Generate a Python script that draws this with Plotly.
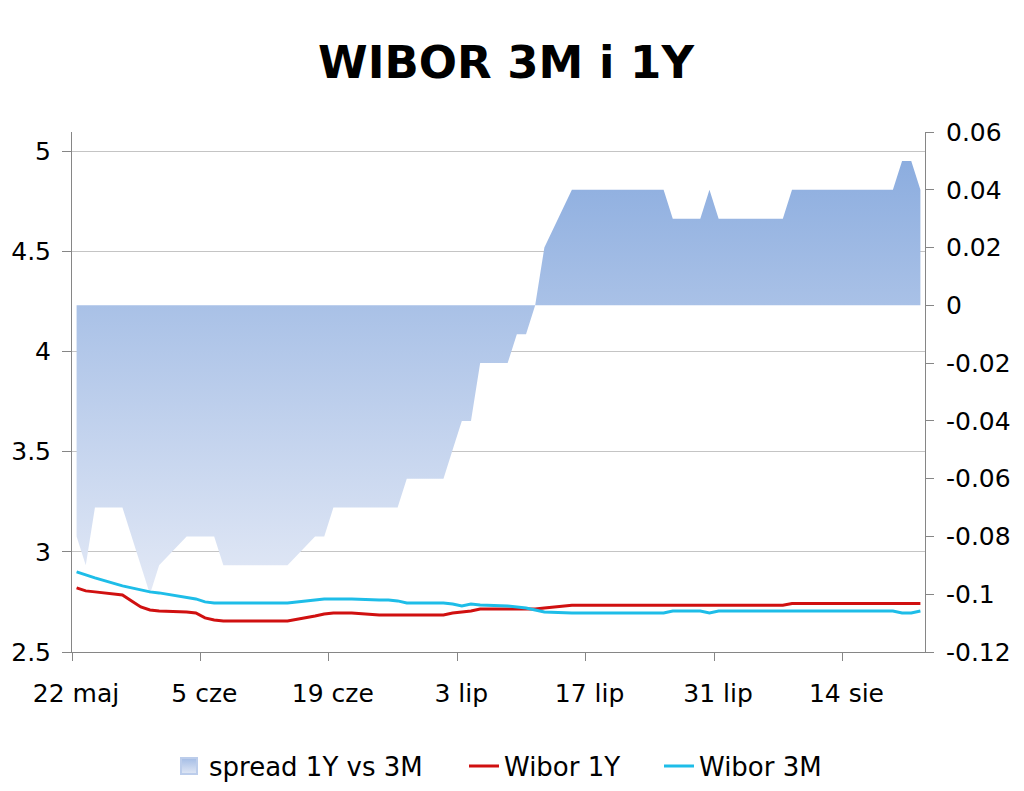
import plotly.graph_objects as go

# business days 22 May - 22 Aug 2013
dates = [
    "2013-05-22", "2013-05-23", "2013-05-24", "2013-05-27", "2013-05-28", "2013-05-29", "2013-05-30", "2013-05-31",
    "2013-06-03", "2013-06-04", "2013-06-05", "2013-06-06", "2013-06-07",
    "2013-06-10", "2013-06-11", "2013-06-12", "2013-06-13", "2013-06-14",
    "2013-06-17", "2013-06-18", "2013-06-19", "2013-06-20", "2013-06-21",
    "2013-06-24", "2013-06-25", "2013-06-26", "2013-06-27", "2013-06-28",
    "2013-07-01", "2013-07-02", "2013-07-03", "2013-07-04", "2013-07-05",
    "2013-07-08", "2013-07-09", "2013-07-10", "2013-07-11", "2013-07-12",
    "2013-07-15", "2013-07-16", "2013-07-17", "2013-07-18", "2013-07-19",
    "2013-07-22", "2013-07-23", "2013-07-24", "2013-07-25", "2013-07-26",
    "2013-07-29", "2013-07-30", "2013-07-31", "2013-08-01", "2013-08-02",
    "2013-08-05", "2013-08-06", "2013-08-07", "2013-08-08", "2013-08-09",
    "2013-08-12", "2013-08-13", "2013-08-14", "2013-08-15", "2013-08-16",
    "2013-08-19", "2013-08-20", "2013-08-21", "2013-08-22",
]

wibor_3m = [
    2.90, 2.885, 2.87, 2.83, 2.82, 2.81, 2.80, 2.795,
    2.775, 2.765, 2.75, 2.745, 2.745,
    2.745, 2.745, 2.745, 2.745, 2.745,
    2.76, 2.765, 2.765, 2.765, 2.765,
    2.76, 2.76, 2.755, 2.745, 2.745,
    2.745, 2.74, 2.73, 2.74, 2.735,
    2.73, 2.725, 2.72, 2.71, 2.70,
    2.695, 2.695, 2.695, 2.695, 2.695,
    2.695, 2.695, 2.695, 2.695, 2.705,
    2.705, 2.695, 2.705, 2.705, 2.705,
    2.705, 2.705, 2.705, 2.705, 2.705,
    2.705, 2.705, 2.705, 2.705, 2.705,
    2.705, 2.695, 2.695, 2.705,
]

wibor_1y = [
    2.82, 2.805, 2.80, 2.785, 2.755, 2.725, 2.71, 2.705,
    2.70, 2.695, 2.67, 2.66, 2.655,
    2.655, 2.655, 2.655, 2.655, 2.655,
    2.68, 2.69, 2.695, 2.695, 2.695,
    2.685, 2.685, 2.685, 2.685, 2.685,
    2.685, 2.695, 2.70, 2.705, 2.715,
    2.715, 2.715, 2.715, 2.715, 2.72,
    2.733, 2.733, 2.733, 2.733, 2.733,
    2.733, 2.733, 2.733, 2.733, 2.733,
    2.733, 2.733, 2.733, 2.733, 2.733,
    2.733, 2.733, 2.733, 2.742, 2.742,
    2.742, 2.742, 2.742, 2.742, 2.742,
    2.742, 2.742, 2.742, 2.742,
]

spread = [
    -0.08, -0.09, -0.07, -0.07, -0.08, -0.09, -0.10, -0.09,
    -0.08, -0.08, -0.08, -0.08, -0.09,
    -0.09, -0.09, -0.09, -0.09, -0.09,
    -0.08, -0.08, -0.07, -0.07, -0.07,
    -0.07, -0.07, -0.07, -0.06, -0.06,
    -0.06, -0.05, -0.04, -0.04, -0.02,
    -0.02, -0.01, -0.01, 0.00, 0.02,
    0.04, 0.04, 0.04, 0.04, 0.04,
    0.04, 0.04, 0.04, 0.04, 0.03,
    0.03, 0.04, 0.03, 0.03, 0.03,
    0.03, 0.03, 0.03, 0.04, 0.04,
    0.04, 0.04, 0.04, 0.04, 0.04,
    0.04, 0.05, 0.05, 0.04,
]

tick_dates = ["2013-05-22", "2013-06-05", "2013-06-19", "2013-07-03", "2013-07-17", "2013-07-31", "2013-08-14"]
tick_labels = ["22 maj", "5 cze", "19 cze", "3 lip", "17 lip", "31 lip", "14 sie"]

left_ticks = [2.5, 3, 3.5, 4, 4.5, 5]
right_ticks = [-0.12, -0.10, -0.08, -0.06, -0.04, -0.02, 0, 0.02, 0.04, 0.06]
right_labels = ["-0.12", "-0.1", "-0.08", "-0.06", "-0.04", "-0.02", "0", "0.02", "0.04", "0.06"]

# excel-style date axis: each point sits in the middle of its day
x_mid = [d + " 12:00" for d in dates]

FONT = "DejaVu Sans"
AXIS_GREY = "#868686"
# page body has an 8px margin, so the figure is 8px smaller than the window
W, H = 1016, 783

fig = go.Figure()

# spread area on the base (right) axis so it is drawn under the lines
fig.add_trace(go.Scatter(
    x=x_mid, y=spread, yaxis="y", mode="lines", fill="tozeroy",
    line=dict(width=0, color="#a9c2e7"),
    fillgradient=dict(type="vertical", colorscale=[[0, "#e3e9f6"], [1, "#8caddf"]],
                      start=-0.10, stop=0.05),
    showlegend=False, hoverinfo="skip",
))
# legend swatch for the area
fig.add_trace(go.Scatter(
    x=[None], y=[None], yaxis="y", mode="markers", name="spread 1Y vs 3M",
    legend="legend",
    marker=dict(symbol="square", size=20, color="#a3bce5",
                gradient=dict(type="vertical", color="#e0e7f5"),
                line=dict(width=2, color="#bccdeb")),
))
fig.add_trace(go.Scatter(
    x=x_mid, y=wibor_1y, yaxis="y2", mode="lines", name="Wibor 1Y",
    legend="legend2",
    line=dict(color="#d01010", width=3),
))
fig.add_trace(go.Scatter(
    x=x_mid, y=wibor_3m, yaxis="y2", mode="lines", name="Wibor 3M",
    legend="legend3",
    line=dict(color="#1ebde8", width=3),
))

legend_style = dict(orientation="h", xref="container", xanchor="left",
                    y=1 - 758 / H, yref="container", yanchor="middle",
                    font=dict(size=26), bgcolor="rgba(0,0,0,0)")

fig.update_layout(
    width=W, height=H,
    margin=dict(l=64, r=99, t=124, b=139),
    paper_bgcolor="white", plot_bgcolor="white",
    font=dict(family=FONT, size=25, color="black"),
    title=dict(text="<b>WIBOR 3M i 1Y</b>", font=dict(family=FONT, size=45, color="black"),
               x=498 / W, xref="container", xanchor="center",
               y=1 - 54 / H, yref="container", yanchor="middle"),
    xaxis=dict(
        type="date", range=["2013-05-22", "2013-08-23"],
        tickvals=tick_dates, ticktext=tick_labels, ticklabelshift=4,
        ticks="outside", ticklen=8, tickcolor=AXIS_GREY, ticklabelstandoff=11,
        showline=True, linecolor=AXIS_GREY, linewidth=1,
        showgrid=False, zeroline=False, automargin=False,
        tickfont=dict(size=25),
    ),
    yaxis=dict(
        side="right", range=[-0.12, 0.06],
        tickvals=right_ticks, ticktext=right_labels,
        ticks="outside", ticklen=8, tickcolor=AXIS_GREY, ticklabelstandoff=7,
        showline=True, linecolor=AXIS_GREY, linewidth=1,
        showgrid=False, zeroline=False, automargin=False,
        tickfont=dict(size=25),
    ),
    yaxis2=dict(
        side="left", overlaying="y", range=[2.5, 5.095],
        tickvals=left_ticks,
        ticks="outside", ticklen=9, tickcolor=AXIS_GREY, ticklabelstandoff=6,
        showline=True, linecolor=AXIS_GREY, linewidth=1,
        showgrid=True, gridcolor="#c4c4c4", gridwidth=1, zeroline=False,
        automargin=False,
        tickfont=dict(size=25),
    ),
    legend=dict(legend_style, x=161 / W),
    legend2=dict(legend_style, x=456 / W),
    legend3=dict(legend_style, x=651 / W),
)

fig.write_html("out.html")
